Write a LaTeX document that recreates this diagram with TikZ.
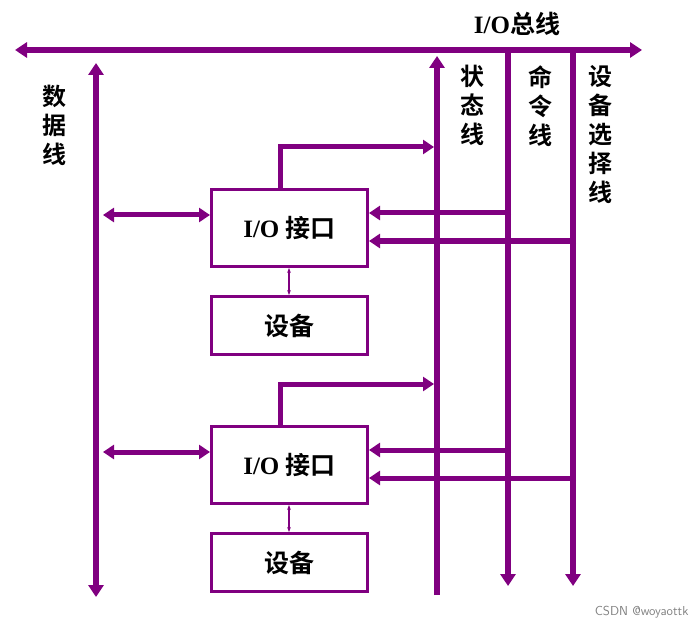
\documentclass[tikz,border=0pt]{standalone}
\usepackage{fontspec}
\setmainfont{Liberation Serif}
\newfontfamily\cjk{Noto Sans CJK SC}[BoldFont={Noto Sans CJK SC Bold}]
\usetikzlibrary{arrows.meta}
\definecolor{pur}{HTML}{800080}
\tikzset{
 bus/.style={draw=pur,line width=6pt,-{Triangle[length=12pt,width=15pt]}},
 busb/.style={bus,{Triangle[length=12pt,width=15pt]}-{Triangle[length=12pt,width=15pt]}},
 lnk/.style={draw=pur,line width=5pt,-{Triangle[length=11pt,width=14pt]}},
 lnkb/.style={lnk,{Triangle[length=11pt,width=14pt]}-{Triangle[length=11pt,width=14pt]}},
 box/.style={draw=pur,line width=3pt,fill=white,minimum width=156pt,inner sep=0pt,font=\bfseries\fontsize{25}{27}\selectfont},
 vlab/.style={font=\cjk\bfseries\fontsize{24}{29}\selectfont,align=center,anchor=north}
}
\begin{document}
\begin{tikzpicture}[x=1pt,y=-1pt]
\useasboundingbox (0,0) rectangle (696,631);
\coordinate (bl) at (15,50); \coordinate (br) at (642,50);
\draw[busb] (bl) -- (br);
\node[font=\bfseries\fontsize{25}{27}\selectfont] (bt) at (517,24) {I/O{\cjk 总线}};
\coordinate (dt) at (96,63); \coordinate (db) at (96,597);
\draw[busb] (dt) -- (db);
\node[vlab] (dl) at (54,82) {数\\据\\线};
\coordinate (sb) at (437,595); \coordinate (st) at (437,56);
\draw[bus] (sb) -- (st);
\node[vlab] (sl) at (472,62) {状\\态\\线};
\coordinate (ct) at (508,53); \coordinate (cb) at (508,586);
\draw[bus] (ct) -- (cb);
\node[vlab] (cl) at (540,62) {命\\令\\线};
\coordinate (et) at (573,53); \coordinate (eb) at (573,586);
\draw[bus] (et) -- (eb);
\node[vlab] (el) at (600,62) {设\\备\\选\\择\\线};
\foreach \i/\y/\d in {1/188/295,2/425/532}{
 \node[box,minimum height=77pt,anchor=north west] (io\i) at (210,\y) {I/O {\cjk 接口}};
 \node[box,minimum height=58pt,anchor=north west,font=\cjk\bfseries\fontsize{25}{27}\selectfont] (dev\i) at (210,\d) {设备};
 \draw[pur,line width=1.5pt,{Stealth[length=5pt]}-{Stealth[length=5pt]}] (io\i.south -| 289,0) -- (dev\i.north -| 289,0);
 \draw[lnkb] (103,\y+27) -- (io\i.west |- 0,\y+27);
 \draw[lnk] (io\i.north -| 280,0) -- (280,\y-41) -- (434,\y-41);
 \draw[lnk] (511,\y+25) -- (io\i.east |- 0,\y+25);
 \draw[lnk] (576,\y+53) -- (io\i.east |- 0,\y+53);
}
\node[text=gray,font=\sffamily\fontsize{13}{14}\selectfont,anchor=east] (wm) at (692,612) {CSDN @woyaottk};
\end{tikzpicture}
\end{document}
